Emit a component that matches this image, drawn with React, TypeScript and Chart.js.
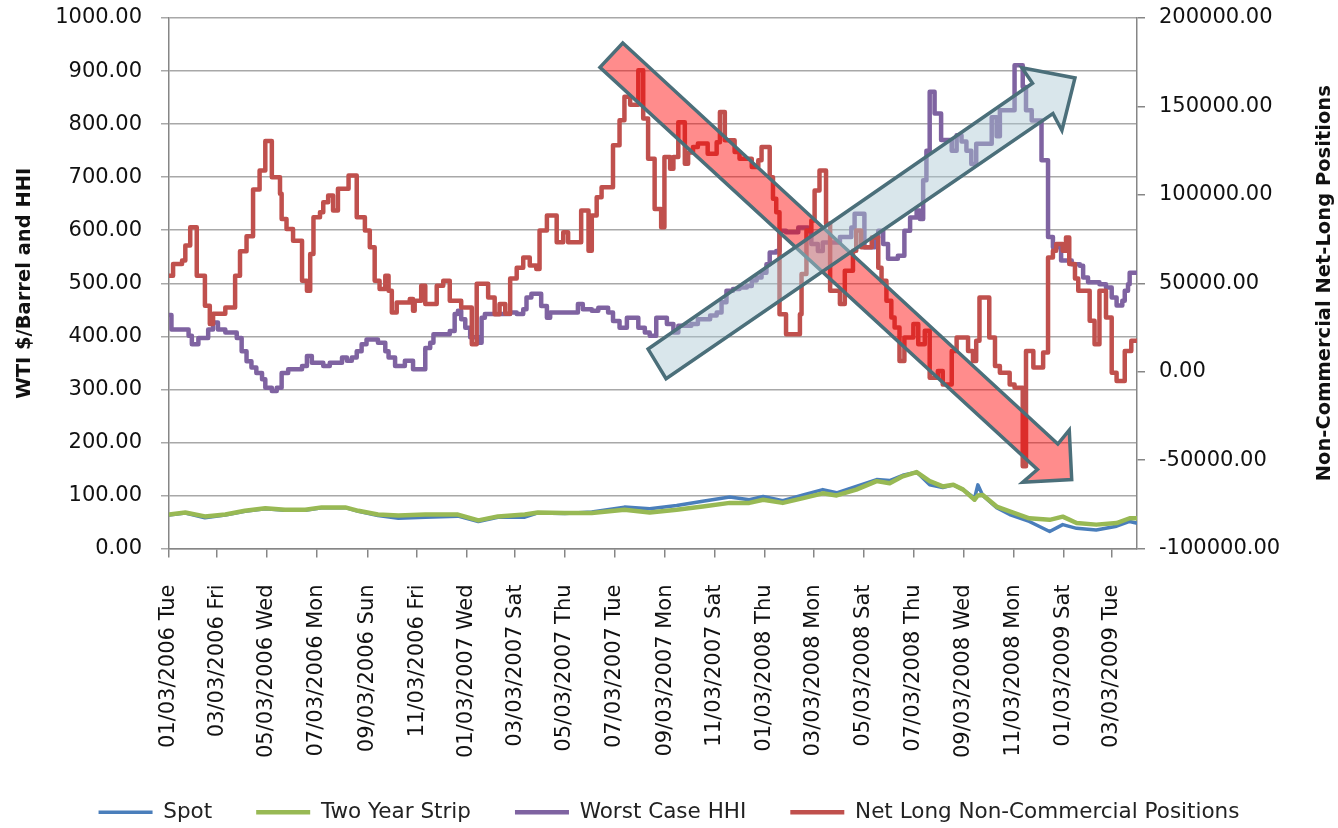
import React, { useEffect, useRef } from "react";
import { Chart, registerables } from "chart.js";

Chart.register(...registerables);

// Day 0 of the x axis is 01/03/2006; all x values are days from that date.
const START_UTC = Date.UTC(2006, 0, 3);
const MS_PER_DAY = 86400000;
const LAST_DAY = 1186;

const xTickLabels = [
  "01/03/2006 Tue", "03/03/2006 Fri", "05/03/2006 Wed", "07/03/2006 Mon",
  "09/03/2006 Sun", "11/03/2006 Fri", "01/03/2007 Wed", "03/03/2007 Sat",
  "05/03/2007 Thu", "07/03/2007 Tue", "09/03/2007 Mon", "11/03/2007 Sat",
  "01/03/2008 Thu", "03/03/2008 Mon", "05/03/2008 Sat", "07/03/2008 Thu",
  "09/03/2008 Wed", "11/03/2008 Mon", "01/03/2009 Sat", "03/03/2009 Tue",
];

// WTI spot and two-year strip ($/barrel)
const priceDays = [
  0, 20, 44, 69, 93, 118, 142, 167, 187, 216, 232, 256, 281, 314, 354, 379, 403, 436,
  452, 485, 518, 558, 589, 622, 654, 687, 711, 728, 752, 777, 801, 818, 842, 867, 883,
  899, 916, 932, 948, 961, 973, 987, 991, 997, 1014, 1030, 1054, 1079, 1095, 1112, 1136,
  1161, 1177, 1185,
];
const spotValues = [
  63, 67, 58, 63, 70, 75, 72, 72, 77, 77, 70, 62, 57, 59, 61, 51, 59, 59,
  67, 66, 69, 78, 75, 81, 89, 97, 92, 98, 90, 101, 111, 105, 117, 130, 128,
  138, 144, 120, 115, 120, 111, 95, 120, 100, 77, 64, 51, 32, 45, 38, 35,
  42, 51, 48,
];
const stripValues = [
  64, 68, 60.5, 64, 71, 76, 73, 73, 77.5, 77.5, 71, 64, 62, 64, 64, 53, 60.5, 64,
  68, 67, 67, 73, 68, 73, 79, 86, 86, 92, 86, 95, 104, 100, 111, 127, 123,
  136, 144, 127, 117, 120, 111, 92, 100, 101, 79, 70, 57, 54, 60, 48, 45,
  48, 57, 57,
];

// Worst case HHI (step changes)
const hhiDays = [
  0, 3, 24, 28, 36, 48, 54, 60, 69, 83, 89, 95, 101, 107, 114, 118, 126, 132, 138, 146,
  163, 169, 175, 189, 197, 212, 218, 224, 230, 236, 242, 256, 265, 269, 277, 289, 299,
  314, 320, 324, 344, 350, 354, 358, 363, 369, 379, 383, 387, 418, 426, 434, 438, 444,
  456, 463, 467, 501, 507, 518, 526, 538, 544, 552, 561, 575, 583, 589, 597, 610, 618,
  624, 640, 648, 663, 671, 677, 683, 691, 699, 708, 714, 720, 726, 732, 736, 744, 748,
  756, 771, 783, 787, 795, 801, 822, 836, 840, 852, 865, 869, 875, 881, 893, 901, 908,
  916, 920, 924, 928, 932, 938, 946, 959, 965, 971, 977, 983, 989, 1008, 1014, 1018,
  1036, 1046, 1050, 1057, 1069, 1077, 1083, 1093, 1106, 1116, 1120, 1126, 1140, 1148,
  1155, 1161, 1168, 1171, 1175, 1177, 1186,
];
const hhiValues = [
  440, 413, 401, 385, 397, 413, 426, 413, 407, 397, 372, 353, 341, 331, 319, 303, 297, 303, 331, 338,
  344, 363, 350, 344, 350, 360, 354, 360, 372, 385, 394, 388, 372, 360, 344, 354, 338,
  378, 388, 404, 410, 442, 448, 432, 416, 398, 388, 435, 442, 445, 442, 451, 473, 480,
  457, 435, 445, 461, 451, 448, 454, 445, 429, 416, 435, 416, 407, 401, 435, 423, 407,
  420, 423, 432, 439, 445, 464, 486, 489, 492, 495, 505, 511, 520, 536, 558, 561, 599,
  596, 605, 598, 574, 561, 577, 587, 605, 631, 568, 587, 599, 574, 546, 552, 599, 624,
  637, 621, 694, 750, 861, 820, 770, 750, 779, 767, 750, 725, 763, 813, 777, 826,
  911, 870, 826, 807, 732, 587, 568, 543, 536, 533, 511, 502, 498, 492,
  473, 458, 467, 486, 498, 520, 520,
];

// Net long non-commercial positions (contracts, weekly step changes)
const netLongDays = [
  0, 5, 16, 20, 26, 34, 44, 50, 54, 69, 81, 87, 95, 103, 111, 118, 126, 136, 138, 144,
  152, 163, 169, 173, 177, 185, 189, 195, 201, 207, 220, 230, 240, 246, 252, 258, 265,
  269, 273, 279, 295, 299, 301, 309, 314, 328, 336, 344, 358, 371, 377, 391, 399, 405,
  412, 418, 426, 434, 442, 450, 454, 463, 475, 483, 489, 505, 514, 518, 524, 530, 544,
  552, 558, 565, 575, 581, 587, 595, 603, 607, 614, 618, 624, 632, 636, 642, 648, 660,
  671, 675, 681, 693, 699, 714, 722, 726, 736, 740, 744, 748, 756, 773, 775, 781, 787,
  791, 797, 805, 810, 822, 828, 838, 842, 848, 861, 869, 873, 879, 885, 889, 895, 901,
  912, 918, 926, 932, 942, 948, 959, 965, 979, 985, 989, 993, 1005, 1012, 1018, 1030,
  1036, 1046, 1050, 1059, 1071, 1077, 1083, 1087, 1095, 1099, 1103, 1110, 1114, 1128,
  1134, 1140, 1148, 1155, 1161, 1171, 1179, 1186,
];
const netLongValues = [
  54300, 60900, 62800, 71300, 81700, 54300, 37300, 26900, 32700, 36300, 54300, 68100, 76600, 103000, 113800, 130500, 110000, 100600, 86400, 80700,
  74100, 51400, 45800, 66500, 87300, 90100, 95800, 99600, 91100, 103400, 111000, 87300, 79800, 70300, 51400, 46700, 54300,
  45800, 33500, 39100, 41100, 34400, 40100, 48600, 38200, 48600, 51400, 40100, 36300, 15500, 49700, 42000, 32500, 38200,
  32700, 52700, 58800, 64600, 60000, 58100, 79800, 88300, 73200, 78800, 73200, 91100, 68400, 88300, 98700, 104300, 128000,
  142200, 155400, 151000, 170500, 143100, 120400, 92000, 81700, 121400, 114800, 121400, 141100, 117600, 124000, 127000, 129000, 123300,
  129800, 146900, 130800, 124200, 120400, 115700, 119500, 127000, 110000, 97800, 90100, 32500, 21100, 32500, 55200, 79800, 85500,
  102500, 113800, 83600, 45800, 38200, 57100, 68400, 79800, 70300, 75900, 58800, 51400, 40100, 30600, 25000, 6100, 19300,
  26900, 15500, 23100, -3400, 400, -7200, 11700, 19300, 11700, 6100, 17500, 42000, 19300, 3200, -600, -7200,
  -9100, -53500, 11700, 2300, 10800, 64600, 68400, 72200, 68400, 75900, 60900, 52700, 45800, 28800,
  15500, 45800, 30600, -600, -5300, 11700, 17500, 17500,
];

// Trend arrows, as outlines in (day, $/barrel-axis value) coordinates
const fallingArrow = [
  [556, 953], [1089, 197], [1103, 223], [1106, 130], [1046, 125], [1064, 149], [528, 907],
];
const risingArrow = [
  [587, 376], [1058, 877], [1045, 906], [1110, 887], [1094, 788], [1083, 820], [609, 320],
];

const FONT = '"DejaVu Sans", sans-serif';
const TEXT = "#111111";
const AXIS = "#868686";

const tickDays = xTickLabels.map((label) => {
  const [m, d, y] = label.slice(0, 10).split("/").map(Number);
  return Math.round((Date.UTC(y, m - 1, d) - START_UTC) / MS_PER_DAY);
});

const toPoints = (days: number[], values: number[]) =>
  days.map((d, i) => ({ x: d, y: values[i] }));

// value axes: fixed width, and no extra vertical padding requested for their labels
const fixVerticalAxis = (width: number) => (scale: any) => {
  scale.width = width;
  scale.paddingTop = 0;
  scale.paddingBottom = 0;
};

const overlayPlugin = {
  id: "trendOverlay",
  afterDatasetsDraw(chart: any) {
    const { ctx, scales, chartArea } = chart;
    const sx = scales.x;
    const sy = scales.y;
    const drawArrow = (pts: number[][], fill: string) => {
      ctx.save();
      ctx.beginPath();
      pts.forEach(([d, v], i) => {
        const px = sx.getPixelForValue(d);
        const py = sy.getPixelForValue(v);
        if (i === 0) ctx.moveTo(px, py);
        else ctx.lineTo(px, py);
      });
      ctx.closePath();
      ctx.fillStyle = fill;
      ctx.fill();
      ctx.lineWidth = 3.5;
      ctx.lineJoin = "miter";
      ctx.strokeStyle = "#4B6F7A";
      ctx.stroke();
      ctx.restore();
    };
    drawArrow(fallingArrow, "rgba(255, 0, 0, 0.45)");
    drawArrow(risingArrow, "rgba(170, 200, 210, 0.45)");

    // secondary axis title, reading upwards
    const y1 = scales.y1;
    ctx.save();
    ctx.translate(y1.right - 13, (chartArea.top + chartArea.bottom) / 2);
    ctx.rotate(-Math.PI / 2);
    ctx.font = `bold 19.5px ${FONT}`;
    ctx.fillStyle = TEXT;
    ctx.textAlign = "center";
    ctx.textBaseline = "middle";
    ctx.fillText("Non-Commercial Net-Long Positions", 0, 0);
    ctx.restore();
  },
};

export default function App() {
  const canvasRef = useRef<HTMLCanvasElement>(null);

  useEffect(() => {
    const canvas = canvasRef.current;
    if (!canvas) return;
    const tickFont = { family: FONT, size: 21 };
    const chart = new Chart(canvas, {
      type: "line",
      data: {
        datasets: [
          {
            label: "Spot",
            data: toPoints(priceDays, spotValues),
            borderColor: "#4A7EBB",
            backgroundColor: "#4A7EBB",
            borderWidth: 3.5,
            pointBorderWidth: 3.5,
            pointRadius: 0,
            yAxisID: "y",
            order: 4,
          },
          {
            label: "Two Year Strip",
            data: toPoints(priceDays, stripValues),
            borderColor: "#98B954",
            backgroundColor: "#98B954",
            borderWidth: 4.5,
            pointBorderWidth: 4.5,
            pointRadius: 0,
            yAxisID: "y",
            order: 3,
          },
          {
            label: "Worst Case HHI",
            data: toPoints(hhiDays, hhiValues),
            borderColor: "#7F63A1",
            backgroundColor: "#7F63A1",
            borderWidth: 4.5,
            pointBorderWidth: 4.5,
            pointRadius: 0,
            stepped: true,
            yAxisID: "y",
            order: 2,
          },
          {
            label: "Net Long Non-Commercial Positions",
            data: toPoints(netLongDays, netLongValues),
            borderColor: "#C0504D",
            backgroundColor: "#C0504D",
            borderWidth: 4.5,
            pointBorderWidth: 4.5,
            pointRadius: 0,
            stepped: true,
            yAxisID: "y1",
            order: 1,
          },
        ],
      },
      options: {
        responsive: false,
        animation: false,
        devicePixelRatio: 1,
        layout: { padding: { top: 18, left: 0, right: 0, bottom: -5 } },
        elements: { line: { borderJoinStyle: "round", borderCapStyle: "round" } },
        plugins: {
          tooltip: { enabled: false },
          legend: {
            position: "bottom",
            labels: {
              usePointStyle: true,
              pointStyle: "line",
              pointStyleWidth: 54,
              padding: 44,
              color: "#222222",
              font: { family: FONT, size: 21.5 },
              sort: (a: any, b: any) => a.datasetIndex - b.datasetIndex,
            },
          },
        },
        scales: {
          x: {
            type: "linear",
            position: "bottom",
            min: 0,
            max: LAST_DAY,
            afterBuildTicks: (scale: any) => {
              scale.ticks = tickDays.map((v) => ({ value: v }));
            },
            afterFit: (scale: any) => {
              scale.height = 209;
            },
            ticks: {
              autoSkip: false,
              minRotation: 90,
              maxRotation: 90,
              padding: 27,
              color: TEXT,
              font: tickFont,
              callback: (_v: any, i: number) => xTickLabels[i],
            },
            grid: { drawOnChartArea: false, tickLength: 9, color: AXIS, lineWidth: 1.5 },
            border: { color: AXIS, width: 1.5 },
          },
          y: {
            position: "left",
            min: 0,
            max: 1000,
            afterFit: fixVerticalAxis(169),
            ticks: {
              stepSize: 100,
              padding: 19,
              color: TEXT,
              font: tickFont,
              callback: (v: any) => Number(v).toFixed(2),
            },
            grid: { color: "#A8A8A8", lineWidth: 1.5, tickLength: 8 },
            border: { color: AXIS, width: 1.5 },
            title: {
              display: true,
              text: "WTI $/Barrel and HHI",
              color: TEXT,
              font: { family: FONT, size: 19.5, weight: "bold" },
              padding: { top: 13, bottom: 0 },
            },
          },
          y1: {
            position: "right",
            min: -100000,
            max: 200000,
            afterFit: fixVerticalAxis(201),
            ticks: {
              stepSize: 50000,
              padding: 14,
              color: TEXT,
              font: tickFont,
              callback: (v: any) => Number(v).toFixed(2),
            },
            grid: { drawOnChartArea: false, tickLength: 8, color: AXIS, lineWidth: 1.5 },
            border: { color: AXIS, width: 1.5 },
          },
        },
      } as any,
      plugins: [overlayPlugin],
    });
    return () => chart.destroy();
  }, []);

  return (
    <div style={{ position: "absolute", left: 0, top: 0, width: 1338, height: 828, background: "#ffffff" }}>
      <canvas ref={canvasRef} width={1338} height={828} style={{ display: "block" }} />
    </div>
  );
}
